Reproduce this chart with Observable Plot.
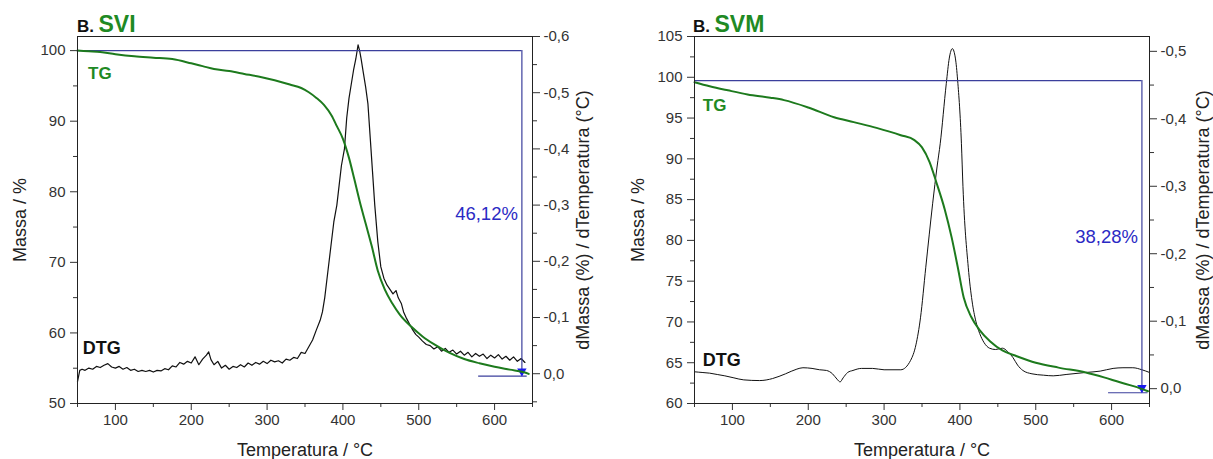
<!DOCTYPE html>
<html>
<head>
<meta charset="utf-8">
<script src="https://cdn.jsdelivr.net/npm/d3@7"></script>
<script src="https://cdn.jsdelivr.net/npm/@observablehq/plot@0.6"></script>
<style>
  body { margin: 0; background: #fff; font-family: "Liberation Sans", Arial, sans-serif; }
  #root { position: relative; width: 1213px; height: 459px; overflow: hidden; background: #fff; }
  .layer { position: absolute; top: 0; }
  .title { position: absolute; top: 13px; line-height: 1; font-weight: bold; white-space: nowrap; }
  .title .b { font-size: 17px; color: #111; }
  .title .n { font-size: 23px; color: #1f8a24; }
</style>
</head>
<body>
<div id="root"></div>
<script>
const FONT = '"Liberation Sans", Arial, sans-serif';

// ---------- shared axis data ----------
const xDomain = [50, 650];
const xMajor = [100, 200, 300, 400, 500, 600];
const xMinor = [50, 150, 250, 350, 450, 550, 650];
const xLabel = "Temperatura / °C";
const yLabel = "Massa / %";
const y2Label = "dMassa (%) / dTemperatura (°C)";

// ---------- SVI panel ----------
const sviMassDomain = [50, 102];
const sviMassMajor = [50, 60, 70, 80, 90, 100];
const sviMassMinor = [55, 65, 75, 85, 95];
const sviDtgDomain = [0.053, -0.6];
const sviDtgMajor = [-0.6, -0.5, -0.4, -0.3, -0.2, -0.1, 0.0];
const sviDtgMinor = [-0.55, -0.45, -0.35, -0.25, -0.15, -0.05, 0.05];

const sviTgT = [50, 65, 80, 100, 125, 150, 175, 200, 215, 230, 250, 270, 290, 310, 330, 345, 355, 365, 375, 385, 392, 400, 408, 415, 422, 430, 438, 446, 455, 465, 475, 490, 505, 520, 540, 560, 580, 600, 620, 640, 645];
const sviTg  = [100, 99.9, 99.8, 99.5, 99.2, 99.0, 98.8, 98.2, 97.8, 97.4, 97.1, 96.7, 96.3, 95.8, 95.2, 94.7, 94.1, 93.3, 92.3, 90.8, 89.3, 87.5, 84.8, 81.8, 78.7, 75.5, 72.3, 68.8, 66.2, 64.2, 62.6, 60.9, 59.5, 58.4, 57.2, 56.3, 55.7, 55.2, 54.8, 54.4, 54.2];

const sviDtgT = [50, 53, 56, 60, 65, 70, 75, 80, 85, 90, 95, 100, 105, 110, 115, 120, 125, 130, 135, 140, 145, 150, 155, 160, 165, 170, 175, 180, 185, 190, 195, 200, 205, 210, 215, 220, 223, 226, 230, 235, 240, 245, 250, 255, 260, 265, 270, 275, 280, 285, 290, 295, 300, 305, 310, 315, 320, 325, 330, 335, 340, 345, 350, 355, 360, 365, 370, 373, 376, 380, 384, 388, 392, 395, 398, 402, 405, 408, 411, 414, 417, 420, 422, 424, 427, 430, 433, 436, 439, 442, 446, 450, 454, 458, 462, 466, 470, 473, 477, 480, 484, 488, 492, 496, 500, 505, 510, 515, 520, 525, 530, 535, 540, 545, 550, 555, 560, 565, 570, 575, 580, 585, 590, 595, 600, 605, 610, 615, 620, 625, 630, 635, 640];
const sviDtg  = [0.014, -0.006, -0.008, -0.006, -0.010, -0.008, -0.013, -0.011, -0.015, -0.018, -0.012, -0.010, -0.013, -0.008, -0.011, -0.006, -0.008, -0.004, -0.006, -0.004, -0.006, -0.003, -0.006, -0.005, -0.009, -0.007, -0.014, -0.012, -0.020, -0.017, -0.022, -0.019, -0.030, -0.016, -0.026, -0.033, -0.039, -0.025, -0.016, -0.022, -0.010, -0.015, -0.008, -0.013, -0.011, -0.016, -0.012, -0.019, -0.015, -0.020, -0.017, -0.022, -0.018, -0.024, -0.021, -0.023, -0.019, -0.026, -0.024, -0.029, -0.027, -0.038, -0.036, -0.048, -0.060, -0.078, -0.095, -0.110, -0.135, -0.180, -0.225, -0.270, -0.300, -0.335, -0.370, -0.400, -0.455, -0.490, -0.515, -0.540, -0.560, -0.585, -0.575, -0.560, -0.535, -0.510, -0.480, -0.420, -0.360, -0.300, -0.235, -0.190, -0.170, -0.158, -0.150, -0.142, -0.148, -0.135, -0.125, -0.110, -0.098, -0.088, -0.078, -0.070, -0.065, -0.058, -0.052, -0.050, -0.044, -0.048, -0.040, -0.045, -0.038, -0.042, -0.035, -0.040, -0.033, -0.038, -0.030, -0.036, -0.031, -0.035, -0.027, -0.033, -0.028, -0.034, -0.026, -0.031, -0.024, -0.030, -0.022, -0.027, -0.020];

const sviLoss = {t: 636, top: 100, bottom: 53.88, lowStart: 579, lowEnd: 643, labelY: 76.9, label: "46,12%"};
const sviTgLabel = {t: 64, v: 96.7, text: "TG"};
const sviDtgLabel = {t: 57, v: 57.9, text: "DTG"};

// ---------- SVM panel ----------
const svmMassDomain = [60, 105];
const svmMassMajor = [60, 65, 70, 75, 80, 85, 90, 95, 100, 105];
const svmMassMinor = [62.5, 67.5, 72.5, 77.5, 82.5, 87.5, 92.5, 97.5, 102.5];
const svmDtgDomain = [0.022, -0.522];
const svmDtgMajor = [-0.5, -0.4, -0.3, -0.2, -0.1, 0.0];
const svmDtgMinor = [-0.45, -0.35, -0.25, -0.15, -0.05];

const svmTgT = [50, 70, 94, 120, 150, 168, 200, 234, 260, 290, 322, 340, 350, 360, 369, 380, 389, 397, 405, 415, 426, 440, 456, 475, 500, 530, 566, 590, 611, 630, 648];
const svmTg  = [99.4, 98.9, 98.4, 97.9, 97.5, 97.2, 96.3, 95.1, 94.5, 93.8, 92.9, 92.3, 91.4, 89.6, 87.1, 83.8, 80.4, 76.8, 73.0, 70.6, 69.0, 67.6, 66.5, 65.8, 65.0, 64.4, 63.8, 63.2, 62.6, 62.1, 61.5];

const svmDtgT = [50, 60, 70, 80, 90, 102, 115, 136, 153, 170, 185, 193, 205, 215, 224, 232, 238, 242, 246, 252, 259, 270, 285, 300, 322, 335, 342, 348, 355, 364, 370, 374, 382, 386, 390, 394, 397, 402, 404, 411, 416, 421, 426, 432, 439, 447, 456, 463, 470, 476, 483, 495, 510, 523, 540, 566, 585, 602, 615, 628, 640, 650];
const svmDtg  = [-0.025, -0.024, -0.023, -0.021, -0.019, -0.016, -0.013, -0.012, -0.015, -0.022, -0.029, -0.031, -0.030, -0.028, -0.027, -0.022, -0.014, -0.010, -0.016, -0.024, -0.027, -0.030, -0.030, -0.028, -0.028, -0.042, -0.065, -0.105, -0.180, -0.274, -0.330, -0.363, -0.452, -0.490, -0.504, -0.490, -0.457, -0.363, -0.300, -0.180, -0.130, -0.100, -0.082, -0.068, -0.060, -0.058, -0.060, -0.055, -0.046, -0.035, -0.027, -0.022, -0.020, -0.019, -0.021, -0.024, -0.026, -0.030, -0.031, -0.031, -0.028, -0.024];

const svmLoss = {t: 640, top: 99.6, bottom: 61.32, lowStart: 596, lowEnd: 648, labelY: 80.4, label: "38,28%"};
const svmTgLabel = {t: 61, v: 96.5, text: "TG"};
const svmDtgLabel = {t: 61, v: 65.3, text: "DTG"};

// ---------- drawing ----------
const comma = d => (Math.abs(d) < 1e-9 ? 0 : d).toFixed(1).replace(".", ",");
const TG_GREEN = "#1d7a1d";
const LABEL_GREEN = "#1f8a24";
const BLUE_LINE = "#3b3f9c";
const BLUE_TEXT = "#2a2ac4";

function panel(cfg) {
  const H = 459;
  const common = {
    width: cfg.width, height: H,
    marginLeft: cfg.ml, marginRight: cfg.mr, marginTop: 36, marginBottom: 56,
    style: {background: "transparent", fontFamily: FONT, color: "#333", overflow: "visible"}
  };
  const tg = cfg.tgT.map((t, i) => ({t, v: cfg.tg[i]}));
  const dtg = cfg.dtgT.map((t, i) => ({t, v: cfg.dtg[i]}));

  const back = Plot.plot({
    ...common,
    x: {domain: xDomain, axis: null},
    y: {domain: cfg.dtgDomain, axis: null},
    marks: [
      Plot.axisY({anchor: "right", ticks: cfg.dtgMajor, tickFormat: comma, tickSize: 7, tickPadding: 4, fontSize: 15, label: null}),
      Plot.axisY({anchor: "right", ticks: cfg.dtgMinor, tickFormat: () => "", tickSize: 4, label: null}),
      Plot.text([y2Label], {frameAnchor: "right", textAnchor: "middle", lineAnchor: "middle", rotate: -90, dx: cfg.y2dx, fontSize: 18, fill: "#222"}),
      Plot.line(dtg, {x: "t", y: "v", stroke: "#111", strokeWidth: cfg.dtgWidth, curve: cfg.dtgCurve})
    ]
  });

  const front = Plot.plot({
    ...common,
    x: {domain: xDomain, label: null},
    y: {domain: cfg.massDomain, label: null},
    marks: [
      Plot.axisX({ticks: xMajor, tickSize: 7, tickPadding: 4, fontSize: 15, label: null}),
      Plot.axisX({ticks: xMinor, tickSize: 4, tickFormat: () => "", label: null}),
      Plot.axisY({ticks: cfg.massMajor, tickSize: 7, tickPadding: 5, fontSize: 15, label: null}),
      Plot.axisY({ticks: cfg.massMinor, tickSize: 4, tickFormat: () => "", label: null}),
      Plot.text([xLabel], {frameAnchor: "bottom", textAnchor: "middle", lineAnchor: "bottom", dy: 52, fontSize: 18, fill: "#222"}),
      Plot.text([yLabel], {frameAnchor: "left", textAnchor: "middle", lineAnchor: "middle", rotate: -90, dx: cfg.ydx, fontSize: 18, fill: "#222"}),
      Plot.ruleY([cfg.loss], {y: "top", x1: () => xDomain[0], x2: "t", stroke: BLUE_LINE, strokeWidth: 1.2}),
      Plot.ruleX([cfg.loss], {x: "t", y1: "top", y2: "bottom", stroke: BLUE_LINE, strokeWidth: 1.2}),
      Plot.ruleY([cfg.loss], {y: "bottom", x1: "lowStart", x2: "lowEnd", stroke: BLUE_LINE, strokeWidth: 1.2}),
      Plot.dot([cfg.loss], {x: "t", y: "bottom", symbol: "triangle", rotate: 180, r: 3.5, fill: "#1a1aee", stroke: "none", dy: -5}),
      Plot.text([cfg.loss], {x: "t", y: "labelY", text: "label", textAnchor: "end", dx: -4, fontSize: 18.5, fill: BLUE_TEXT}),
      Plot.line(tg, {x: "t", y: "v", stroke: TG_GREEN, strokeWidth: 2, curve: "monotone-x"}),
      Plot.text([cfg.tgLabel], {x: "t", y: "v", text: "text", textAnchor: "start", fontSize: 17, fontWeight: "bold", fill: LABEL_GREEN}),
      Plot.text([cfg.dtgLabel], {x: "t", y: "v", text: "text", textAnchor: "start", fontSize: 18, fontWeight: "bold", fill: "#111"}),
      Plot.frame({stroke: "#222"})
    ]
  });

  const root = document.getElementById("root");
  for (const svg of [back, front]) {
    const d = document.createElement("div");
    d.className = "layer";
    d.style.left = cfg.left + "px";
    d.style.width = cfg.width + "px";
    d.appendChild(svg);
    root.appendChild(d);
  }
  const t = document.createElement("div");
  t.className = "title";
  t.style.left = cfg.titleX + "px";
  t.innerHTML = `<span class="b">B.</span> <span class="n">${cfg.name}</span>`;
  root.appendChild(t);
}

panel({
  left: 0, width: 606, ml: 77, mr: 74, ydx: -57, y2dx: 51, titleX: 77, name: "SVI",
  massDomain: sviMassDomain, massMajor: sviMassMajor, massMinor: sviMassMinor,
  dtgDomain: sviDtgDomain, dtgMajor: sviDtgMajor, dtgMinor: sviDtgMinor,
  tgT: sviTgT, tg: sviTg, dtgT: sviDtgT, dtg: sviDtg, dtgWidth: 1.2, dtgCurve: "linear",
  loss: sviLoss, tgLabel: sviTgLabel, dtgLabel: sviDtgLabel
});
panel({
  left: 606, width: 607, ml: 88, mr: 64, ydx: -56, y2dx: 54, titleX: 693, name: "SVM",
  massDomain: svmMassDomain, massMajor: svmMassMajor, massMinor: svmMassMinor,
  dtgDomain: svmDtgDomain, dtgMajor: svmDtgMajor, dtgMinor: svmDtgMinor,
  tgT: svmTgT, tg: svmTg, dtgT: svmDtgT, dtg: svmDtg, dtgWidth: 1, dtgCurve: "monotone-x",
  loss: svmLoss, tgLabel: svmTgLabel, dtgLabel: svmDtgLabel
});
</script>
</body>
</html>
